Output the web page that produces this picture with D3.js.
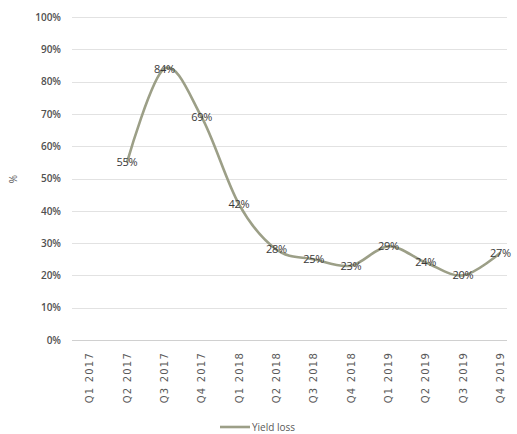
<!DOCTYPE html>
<html>
<head>
<meta charset="utf-8">
<script src="https://cdn.jsdelivr.net/npm/d3@7"></script>
<style>
	body { margin: 0; background: #fff; }
	svg { display: block; font-family: "Open Sans", "DejaVu Sans", sans-serif; }
</style>
</head>
<body>
<svg width="517" height="434"></svg>
<script>
// data.........................................................................

var quarters = ["Q1 2017", "Q2 2017", "Q3 2017", "Q4 2017",
		"Q1 2018", "Q2 2018", "Q3 2018", "Q4 2018",
		"Q1 2019", "Q2 2019", "Q3 2019", "Q4 2019"],
	yieldLoss = [null, 55, 84, 69, 42, 28, 25, 23, 29, 24, 20, 27],
	yTicks = [0, 10, 20, 30, 40, 50, 60, 70, 80, 90, 100],
	seriesName = "Yield loss";

// setup........................................................................

var svg = d3.select("svg"),
	lineColor = "#9c9f87",
	gridLeft = 72, gridRight = 507;

var x = d3.scaleBand()
	.domain(quarters)
	.range([71, 519]);

var y = d3.scaleLinear()
	.domain([0, 100])
	.range([340, 17]);

var data = quarters.map(function(q, i) { return {q: q, v: yieldLoss[i]}; })
	.filter(function(d) { return d.v != null; });

// gridlines
svg.append("g")
	.attr("class", "grid")
	.selectAll("line")
	.data(yTicks)
	.enter().append("line")
		.attr("x1", gridLeft)
		.attr("x2", gridRight)
		.attr("y1", function(d) { return Math.round(y(d)) + 0.5; })
		.attr("y2", function(d) { return Math.round(y(d)) + 0.5; })
		.attr("stroke", function(d) { return d == 0 ? "#d0d0d0" : "#e2e2e2"; })
		.attr("stroke-width", 1);

// y axis labels
var yAxis = svg.append("g")
	.attr("transform", "translate(61,0)")
	.call(d3.axisLeft(y).tickValues(yTicks).tickSize(0).tickPadding(0)
		.tickFormat(function(d) { return d + "%"; }));
yAxis.select(".domain").remove();
yAxis.selectAll("text")
	.attr("fill", "#505050")
	.style("font-size", "10px")
	.style("font-weight", "600")
	.style("font-family", "\"Open Sans\", sans-serif");

// y axis title
svg.append("text")
	.attr("transform", "translate(17,179) rotate(-90)")
	.attr("text-anchor", "middle")
	.attr("fill", "#595959")
	.style("font-size", "10px")
	.text("%");

// x axis labels
var xAxis = svg.append("g")
	.attr("transform", "translate(0,340)")
	.call(d3.axisBottom(x).tickSize(0).tickPadding(0));
xAxis.select(".domain").remove();
xAxis.selectAll("text")
	.attr("transform", "translate(0,12) rotate(-90)")
	.attr("text-anchor", "end")
	.attr("x", 0)
	.attr("y", 0)
	.attr("dy", "0.35em")
	.attr("fill", "#595959")
	.style("font-size", "10px")
	.style("letter-spacing", "1.2px")
	.style("font-family", "\"DejaVu Sans\", sans-serif");

// smoothed line
var line = d3.line()
	.x(function(d) { return x(d.q) + x.bandwidth() / 2; })
	.y(function(d) { return y(d.v); })
	.curve(d3.curveCardinal.tension(0));

svg.append("path")
	.datum(data)
	.attr("fill", "none")
	.attr("stroke", lineColor)
	.attr("stroke-width", 2.6)
	.attr("stroke-linejoin", "round")
	.attr("d", line);

// data labels
svg.append("g")
	.selectAll("text")
	.data(data)
	.enter().append("text")
		.attr("x", function(d) { return x(d.q) + x.bandwidth() / 2; })
		.attr("y", function(d) { return y(d.v); })
		.attr("dy", "0.35em")
		.attr("text-anchor", "middle")
		.attr("fill", "#3a3a3a")
		.style("font-size", "11px")
		.style("letter-spacing", "-0.3px")
		.text(function(d) { return d.v + "%"; });

// legend
var legend = svg.append("g").attr("transform", "translate(220,427)");
legend.append("line")
	.attr("x1", 0).attr("x2", 30)
	.attr("stroke", lineColor)
	.attr("stroke-width", 2.6);
legend.append("text")
	.attr("x", 32)
	.attr("dy", "0.35em")
	.attr("fill", "#595959")
	.style("font-size", "10px")
	.text(seriesName);
</script>
</body>
</html>
